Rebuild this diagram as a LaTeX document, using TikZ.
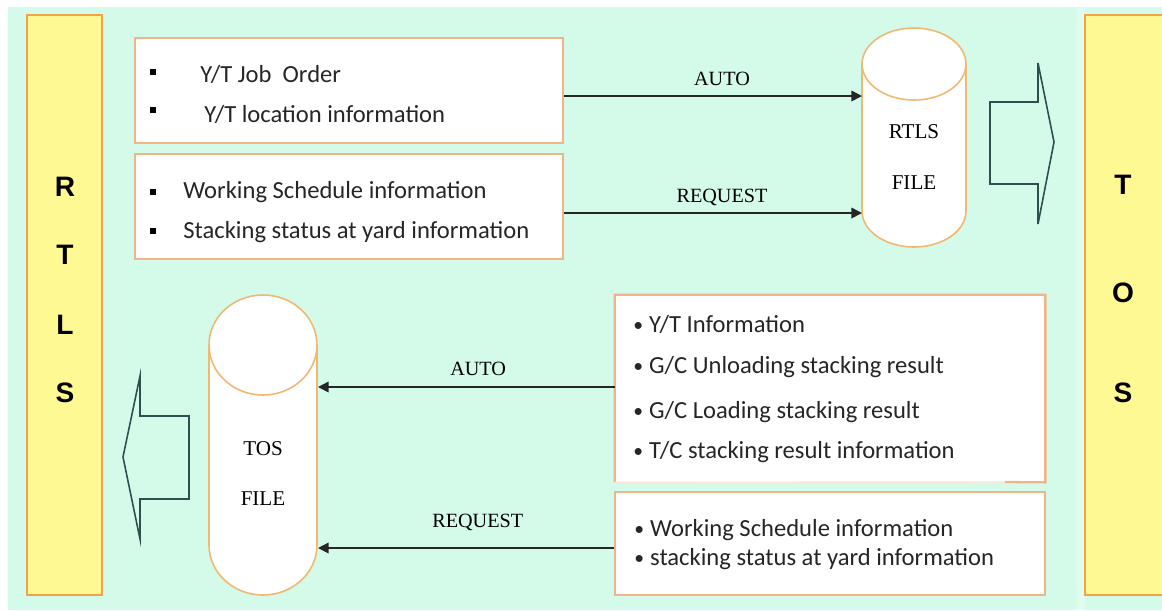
\documentclass[tikz,border=0pt]{standalone}
\usepackage{fontspec}
\setmainfont{Carlito}
\newfontfamily\lblfont{Liberation Serif}
\newfontfamily\barfont{Liberation Sans}
\usetikzlibrary{arrows.meta}
\definecolor{mint}{HTML}{D4FAEA}
\definecolor{baryellow}{HTML}{FFF994}
\definecolor{barorange}{HTML}{F2A445}
\definecolor{boxorange}{HTML}{F2B486}
\definecolor{cylorange}{HTML}{F0B870}
\definecolor{hollow}{HTML}{2F4F4F}
\newdimen\pxu \pxu=0.02cm
\newcommand{\smbul}{\makebox[9pt][l]{\raisebox{0.4pt}{\scalebox{0.8}{\textbullet}}}}
\tikzset{
  bar/.style={draw=barorange, fill=baryellow, line width=1.6pt, inner sep=0pt},
  infobox/.style={draw=boxorange, fill=white, line width=1.3pt, inner sep=0pt},
  bartxt/.style={font=\barfont\bfseries\fontsize{16pt}{18pt}\selectfont, anchor=base, inner sep=0pt},
  boxtxt/.style={font=\fontsize{14pt}{17pt}\selectfont, anchor=base west, inner sep=0pt, text=black!85},
  lbl/.style={font=\lblfont\fontsize{11.5pt}{13pt}\selectfont, anchor=base, inner sep=0pt},
  cyltxt/.style={font=\lblfont\fontsize{12pt}{14pt}\selectfont, anchor=base, inner sep=0pt},
  cyl/.style={draw=cylorange, fill=white, line width=0.9pt},
  conn/.style={draw=black!85, line width=0.9pt, -{Triangle[length=6pt,width=6pt]}},
  hollowarrow/.style={draw=hollow, line width=0.9pt},
  sqbullet/.style={fill=black}
}
\begin{document}
\begin{tikzpicture}[x=0.02cm,y=-0.02cm]
\useasboundingbox (0,0) rectangle (1162,610);
% background
\fill[white] (0,0) rectangle (1162,610);
\fill[mint] (8,7) rectangle (1162,610);
\fill[mint!70!white] (1077,7) rectangle (1085,610);

% side bars
\node[bar, minimum width=75\pxu, minimum height=580\pxu] (rtlsbar) at (64.5,305) {};
\node[bar, minimum width=95\pxu, minimum height=580\pxu] (tosbar) at (1132.5,305) {};
\node[bartxt] (r1) at (65,196) {R};
\node[bartxt] (r2) at (65,264) {T};
\node[bartxt] (r3) at (65,334) {L};
\node[bartxt] (r4) at (65,402) {S};
\node[bartxt] (t1) at (1123,194) {T};
\node[bartxt] (t2) at (1123,302) {O};
\node[bartxt] (t3) at (1123,402) {S};

% top boxes
\node[infobox, minimum width=428\pxu, minimum height=105\pxu] (box1) at (349,90.5) {};
\node[infobox, minimum width=428\pxu, minimum height=105\pxu] (box2) at (349,206.5) {};
\fill[sqbullet] (150,69) rectangle (156,75);
\fill[sqbullet] (150,107) rectangle (156,113);
\fill[sqbullet] (150,189) rectangle (156,195);
\fill[sqbullet] (150,228) rectangle (156,234);
\node[boxtxt] (b1a) at (200,82) {Y/T Job~~Order};
\node[boxtxt] (b1b) at (204,122) {Y/T location information};
\node[boxtxt] (b2a) at (183,198) {Working Schedule information};
\node[boxtxt] (b2b) at (183,238) {Stacking status at yard information};

% bottom boxes
\node[minimum width=430\pxu, minimum height=187\pxu, fill=white, inner sep=0pt] (box3) at (830,388.5) {};
\draw[draw=boxorange, line width=1.3pt] (box3.south west) -- (box3.north west) -- (box3.north east) -- (box3.south east) -- (1005,482);
\draw[draw=boxorange!35!white, line width=0.8pt] (box3.south west) -- (1005,482);
\node[infobox, minimum width=430\pxu, minimum height=103\pxu] (box4) at (830,543.5) {};
\node[boxtxt] (b3a) at (633,332) {\smbul Y/T Information};
\node[boxtxt] (b3b) at (633,373) {\smbul G/C Unloading stacking result};
\node[boxtxt] (b3c) at (633,418) {\smbul G/C Loading stacking result};
\node[boxtxt] (b3d) at (633,458) {\smbul T/C stacking result information};
\node[boxtxt] (b4a) at (634,536) {\smbul Working Schedule information};
\node[boxtxt] (b4b) at (634,565) {\smbul stacking status at yard information};

% RTLS FILE cylinder
\draw[cyl] (862,64) -- (862,211) arc[start angle=180, end angle=0, x radius=52, y radius=36] -- (966,64) -- cycle;
\draw[cyl] (914,64) ellipse[x radius=52, y radius=36];
\node[inner sep=0pt, minimum width=104\pxu, minimum height=219\pxu] (rtlsfile) at (914,137.5) {};
\node[cyltxt] (rtlsA) at (914,138) {RTLS};
\node[cyltxt] (rtlsB) at (914,189) {FILE};

% TOS FILE cylinder
\draw[cyl] (209,345) -- (209,545) arc[start angle=180, end angle=0, x radius=54, y radius=50] -- (317,345) -- cycle;
\draw[cyl] (263,345) ellipse[x radius=54, y radius=50];
\node[inner sep=0pt, minimum width=108\pxu, minimum height=300\pxu] (tosfile) at (263,445) {};
\node[cyltxt] (tosA) at (263,455) {TOS};
\node[cyltxt] (tosB) at (263,505) {FILE};

% connectors
\coordinate (c1) at (862,96);
\coordinate (c2) at (862,213);
\coordinate (c3) at (318,387);
\coordinate (c4) at (318,548);
\draw[conn] (box1.east |- c1) -- node[lbl, pos=0.53, yshift=6.2pt] {AUTO} (c1);
\draw[conn] (box2.east |- c2) -- node[lbl, pos=0.53, yshift=6.2pt] {REQUEST} (c2);
\draw[conn] (box3.west |- c3) -- node[lbl, pos=0.46, yshift=6.8pt] {AUTO} (c3);
\draw[conn] (box4.west |- c4) -- node[lbl, pos=0.46, yshift=11.8pt] {REQUEST} (c4);

% hollow arrows
\draw[hollowarrow] (990,102) -- (1038,102) -- (1038,63) -- (1054,142) -- (1038,224) -- (1038,184) -- (990,184) -- cycle;
\draw[hollowarrow] (189,416) -- (140,416) -- (140,376) -- (123,457) -- (140,539) -- (140,499) -- (189,499) -- cycle;
\end{tikzpicture}
\end{document}
